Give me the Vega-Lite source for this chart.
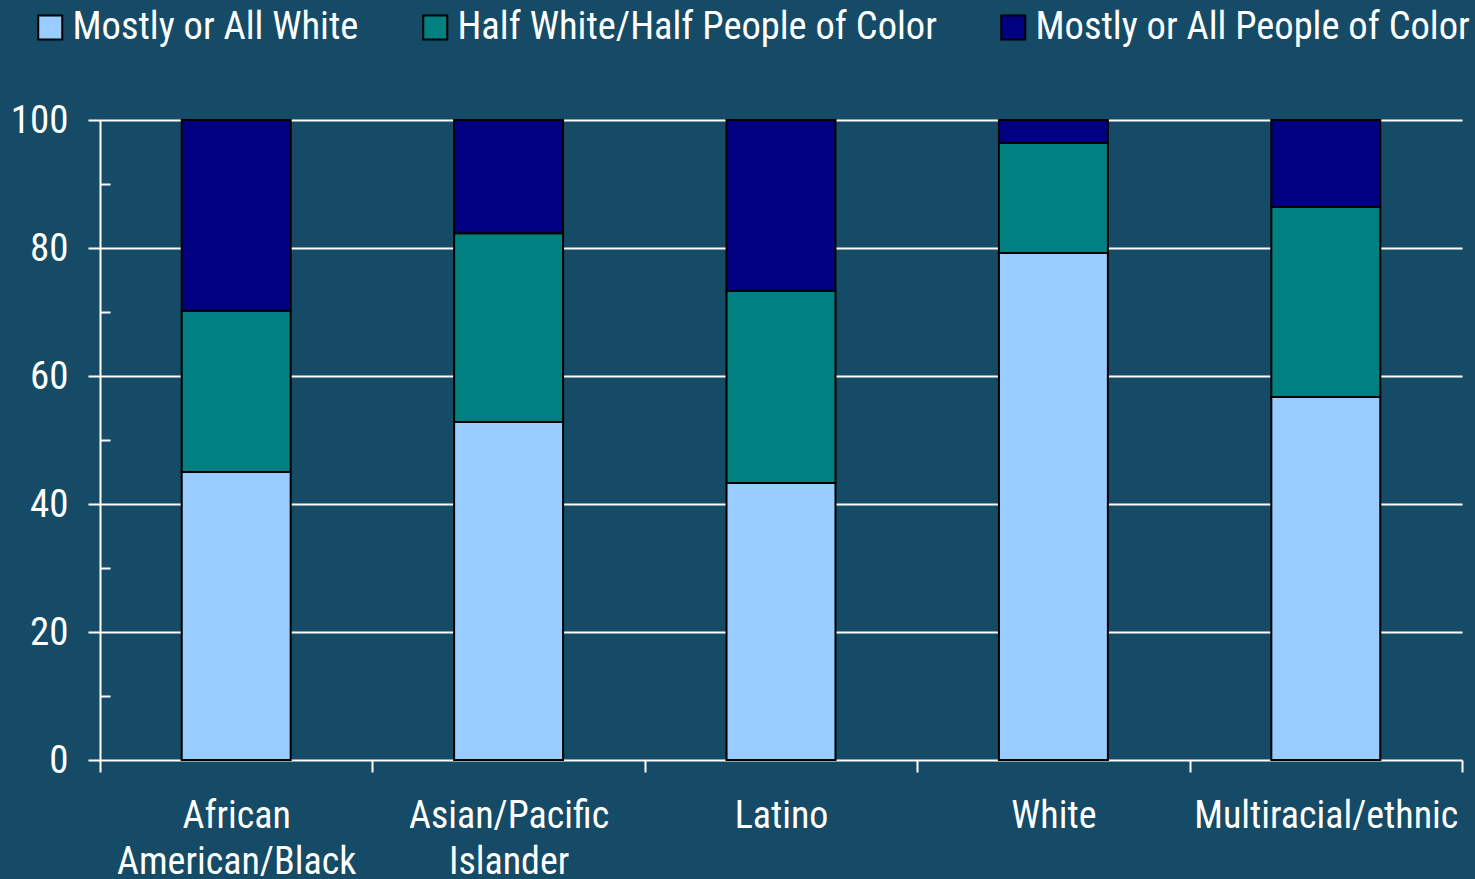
{
  "$schema": "https://vega.github.io/schema/vega-lite/v6.json",
  "width": 1362,
  "height": 640,
  "autosize": {"type": "none"},
  "padding": {"left": 100, "top": 120, "right": 13, "bottom": 119},
  "background": "#154b66",
  "config": {
    "view": {"stroke": null},
    "font": "Liberation Sans Narrow, Roboto Condensed, Arial Narrow, sans-serif"
  },
  "data": {
    "values": [
      {"group": "African American/Black", "type": "Mostly or All White", "value": 45.0},
      {"group": "African American/Black", "type": "Half White/Half People of Color", "value": 25.2},
      {"group": "African American/Black", "type": "Mostly or All People of Color", "value": 29.8},
      {"group": "Asian/Pacific Islander", "type": "Mostly or All White", "value": 52.8},
      {"group": "Asian/Pacific Islander", "type": "Half White/Half People of Color", "value": 29.5},
      {"group": "Asian/Pacific Islander", "type": "Mostly or All People of Color", "value": 17.7},
      {"group": "Latino", "type": "Mostly or All White", "value": 43.3},
      {"group": "Latino", "type": "Half White/Half People of Color", "value": 30.0},
      {"group": "Latino", "type": "Mostly or All People of Color", "value": 26.7},
      {"group": "White", "type": "Mostly or All White", "value": 79.2},
      {"group": "White", "type": "Half White/Half People of Color", "value": 17.2},
      {"group": "White", "type": "Mostly or All People of Color", "value": 3.6},
      {"group": "Multiracial/ethnic", "type": "Mostly or All White", "value": 56.7},
      {"group": "Multiracial/ethnic", "type": "Half White/Half People of Color", "value": 29.7},
      {"group": "Multiracial/ethnic", "type": "Mostly or All People of Color", "value": 13.6}
    ]
  },
  "transform": [
    {"calculate": "indexof(['Mostly or All White','Half White/Half People of Color','Mostly or All People of Color'], datum.type)", "as": "ord"}
  ],
  "mark": {"type": "bar", "stroke": "black", "strokeWidth": 2, "width": {"band": 0.4}},
  "encoding": {
    "x": {
      "field": "group",
      "type": "nominal",
      "sort": ["African American/Black", "Asian/Pacific Islander", "Latino", "White", "Multiracial/ethnic"],
      "scale": {"paddingInner": 0, "paddingOuter": 0},
      "axis": {
        "title": null,
        "labelAngle": 0,
        "tickBand": "extent",
        "domainColor": "white",
        "domainWidth": 2,
        "tickColor": "white",
        "tickWidth": 2,
        "tickSize": 12,
        "labelColor": "white",
        "labelFontSize": 38,
        "labelLimit": 500,
        "labelPadding": 25,
        "labelBaseline": "top",
        "labelLineHeight": 46,
        "labelExpr": "datum.value == 'African American/Black' ? ['African', 'American/Black'] : datum.value == 'Asian/Pacific Islander' ? ['Asian/Pacific', 'Islander'] : datum.value"
      }
    },
    "y": {
      "field": "value",
      "type": "quantitative",
      "stack": "zero",
      "scale": {"domain": [0, 100], "nice": false},
      "axis": {
        "title": null,
        "values": [0, 10, 20, 30, 40, 50, 60, 70, 80, 90, 100],
        "labelExpr": "datum.value % 20 == 0 ? datum.label : ''",
        "grid": true,
        "gridColor": "white",
        "gridWidth": 2,
        "gridOpacity": {"condition": {"test": "datum.value % 20 == 0 && datum.value > 0", "value": 1}, "value": 0},
        "domainColor": "white",
        "domainWidth": 2,
        "tickColor": "white",
        "tickWidth": 2,
        "tickSize": {"condition": {"test": "datum.value % 20 == 0", "value": 12}, "value": -10},
        "labelColor": "white",
        "labelFontSize": 39,
        "labelPadding": 20
      }
    },
    "color": {
      "field": "type",
      "type": "nominal",
      "scale": {
        "domain": ["Mostly or All White", "Half White/Half People of Color", "Mostly or All People of Color"],
        "range": ["#99ccff", "#008080", "#000080"]
      },
      "legend": {
        "title": null,
        "orient": "none",
        "direction": "horizontal",
        "legendX": -69,
        "legendY": -112,
        "symbolType": "square",
        "symbolSize": 576,
        "symbolStrokeColor": "black",
        "symbolStrokeWidth": 2,
        "symbolOpacity": 1,
        "labelColor": "white",
        "labelFontSize": 38.5,
        "labelOffset": 3,
        "labelLimit": 600,
        "columnPadding": 57
      }
    },
    "order": {"field": "ord", "type": "quantitative"}
  }
}
